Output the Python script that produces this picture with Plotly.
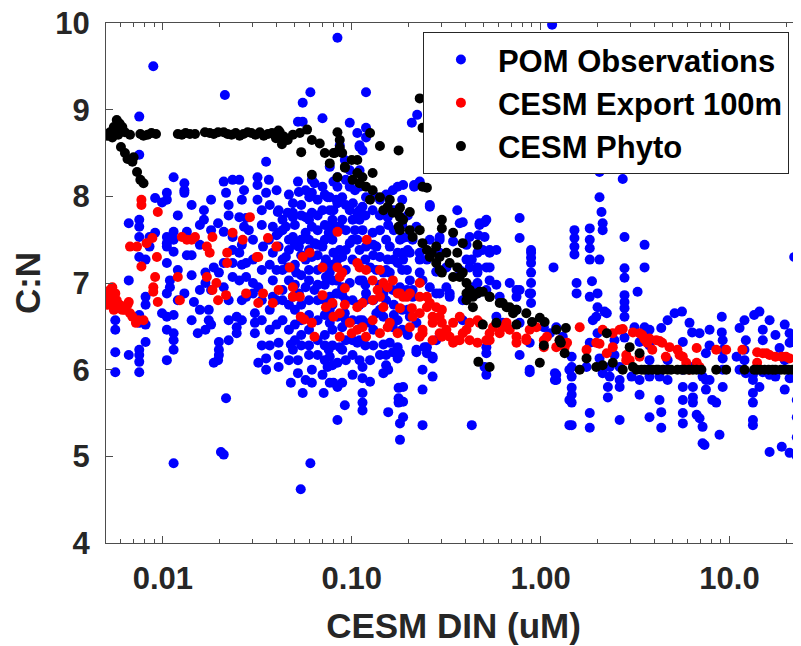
import math
import plotly.graph_objects as go

# ---------------- data ----------------
# POM observations: stations with DIN value and list of C:N values
pom_din = [0.0056, 0.0066, 0.0075, 0.0081, 0.0085, 0.0089, 0.0091, 0.0099, 0.0105, 0.0109,
           0.0114, 0.0130, 0.0134, 0.0146, 0.0153, 0.0165, 0.0168, 0.0175, 0.0186, 0.0196,
           0.0198, 0.0203, 0.0210, 0.0213, 0.0216, 0.0234, 0.0246, 0.0254, 0.0269, 0.0276,
           0.0285, 0.0300, 0.0307, 0.0317, 0.0320, 0.0339, 0.0352, 0.0364, 0.0382, 0.0406,
           0.0410, 0.0448, 0.0458, 0.0476, 0.0488, 0.0508, 0.0519, 0.0525, 0.0537, 0.0550,
           0.0570, 0.0596, 0.0604, 0.0615, 0.0635, 0.0660, 0.0700, 0.0710, 0.0730, 0.0745,
           0.0755, 0.0765, 0.0800, 0.0830, 0.0840, 0.0864, 0.0890, 0.0919, 0.0976, 0.1014,
           0.104, 0.107, 0.110, 0.114, 0.119, 0.125, 0.129, 0.135, 0.141, 0.147,
           0.155, 0.156, 0.159, 0.165, 0.175, 0.177, 0.180, 0.187, 0.196, 0.203,
           0.208, 0.210, 0.214, 0.220, 0.222, 0.229, 0.237, 0.243, 0.250, 0.259,
           0.268, 0.280, 0.292, 0.317, 0.330, 0.344, 0.362, 0.373, 0.387, 0.405,
           0.421, 0.432, 0.438, 0.463, 0.468, 0.475, 0.494, 0.505, 0.516, 0.537,
           0.583, 0.607, 0.630, 0.686, 0.745, 0.774, 0.875, 0.890, 1.04, 1.12,
           1.15, 1.17, 1.19, 1.21, 1.31, 1.42, 1.46, 1.51, 1.55, 1.75,
           1.82, 1.87, 1.89, 1.97, 2.00, 2.05, 2.10, 2.13, 2.18, 2.24,
           2.27, 2.32, 2.62, 2.72, 2.78, 3.03, 3.14, 3.26, 3.34, 3.55,
           3.77, 4.26, 4.35, 5.12, 5.60, 5.66, 6.14, 6.34, 6.40, 6.70,
           6.94, 7.20, 7.37, 7.50, 7.84, 8.10, 8.50, 8.85, 9.10, 9.20,
           10.9, 11.3, 12.2, 13.3, 13.5, 14.4, 15.0, 16.3, 17.5, 18.4,
           18.9, 20.8, 21.5, 22.0, 22.7,
           # denser part of the cloud
           0.0430, 0.0465, 0.0500, 0.0540, 0.0594, 0.0660, 0.0720, 0.0790, 0.0930, 0.101,
           0.110, 0.118, 0.130, 0.141, 0.152, 0.167, 0.185, 0.198,
           0.0120, 0.0142, 0.0157, 0.0180, 0.0223, 0.0262, 0.0334, 0.0368, 0.0400,
           2.46, 3.77, 4.70, 7.84, 12.0, 16.3, 19.6]
pom_cn = [
    [6.57, 6.46, 6.20, 5.97], [7.69, 7.03, 6.17],
    [8.92, 8.48, 7.73, 7.65, 7.53, 7.30, 6.63, 6.54, 6.23, 6.17, 6.09, 5.97],
    [7.27, 6.84, 6.75, 6.52, 6.32], [7.53, 7.42], [9.50], [7.98, 7.58], [7.93, 6.65],
    [8.04, 7.96, 7.53, 7.46, 7.42, 7.23, 6.88, 6.61, 6.46, 6.11], [7.03, 6.95],
    [8.22, 7.59, 7.50, 7.36, 6.63, 6.42, 6.34, 6.23, 4.92], [8.15, 8.07, 8.04, 6.88],
    [7.59, 7.53, 7.32], [6.78], [6.42], [7.84, 7.73], [7.12, 7.00, 6.46], [6.69, 6.57],
    [7.18, 6.08], [7.69, 6.11],
    [7.12, 6.32, 6.23, 6.17], [5.05], [8.17, 7.59, 7.23, 6.95, 5.02], [9.17], [8.04, 5.67],
    [8.19, 7.53, 7.38, 7.23, 7.07], [6.61, 6.49, 6.42], [8.19, 7.76, 7.35, 7.03],
    [7.65, 8.07], [7.75, 7.23, 7.07, 6.84],
    [7.61], [7.50, 7.27, 7.00, 6.88], [6.65, 6.54, 6.42], [8.22, 8.13, 7.96], [6.95, 6.08],
    [7.42], [8.40, 8.04, 6.13, 6.00], [8.19, 7.50], [7.65, 7.35, 7.03, 6.84], [7.82],
    [7.84, 7.58, 7.42, 6.31, 6.17, 6.03], [7.65, 7.30], [7.81, 7.18], [6.29, 5.85],
    [7.92, 7.81, 7.76, 7.53, 6.84, 6.23], [7.12], [8.86, 8.17, 6.11, 5.96], [8.05, 7.42, 6.88],
    [4.62], [9.08, 8.86, 5.73],
    [8.07, 7.76, 7.58, 7.27, 6.95, 5.88], [7.99], [9.20, 4.92],
    [8.19, 8.04, 7.81, 7.65, 7.30, 6.00, 5.85], [8.15, 7.46, 6.92], [7.61, 7.15],
    [8.90, 8.11, 7.84, 7.42, 5.94], [5.73], [7.27, 7.07], [7.99, 6.03],
    [7.58, 6.23], [8.34, 7.99, 7.84, 7.65, 7.53, 7.12, 6.84, 6.69, 6.54, 6.15, 5.85],
    [8.17, 7.84, 7.35, 5.85], [7.96, 7.65, 7.03, 6.88],
    [9.83, 8.22, 8.11, 7.92, 7.27, 6.88, 6.61, 6.08, 5.80, 5.42], [8.59, 7.65, 7.38, 6.26],
    [7.99, 7.73, 7.30, 6.95, 6.86, 6.49, 6.23, 5.85], [8.42, 6.65, 5.59],
    [8.85, 8.30, 8.11, 7.84, 7.46, 7.00], [7.92],
    [8.07, 7.61], [8.73, 7.81, 7.50, 6.31], [8.59, 8.57, 8.11, 7.38],
    [8.53, 7.88, 7.61, 7.03, 6.57, 6.03, 5.90, 5.73, 5.62, 5.53],
    [9.20, 8.79, 8.68, 7.99, 7.42, 6.88], [7.18, 6.54, 6.11, 5.86], [7.84, 7.58],
    [7.42, 7.15, 6.65], [7.96, 7.30], [7.12, 6.88, 6.61, 6.29, 5.96],
    [7.76, 7.27], [7.67, 6.00, 5.51], [7.42, 7.12, 6.31], [8.07, 6.92, 6.49, 6.20],
    [8.11, 7.35, 7.23, 6.57, 6.26, 6.13], [5.79, 5.67, 5.62], [7.50, 6.95, 6.19, 5.38, 5.19],
    [8.13, 7.52, 7.35, 7.27, 5.80, 5.63, 5.45], [7.53, 7.15, 6.92], [7.35, 7.03, 6.61],
    [8.85], [7.50, 6.92, 6.84], [8.13, 8.11], [7.65, 6.54, 6.23, 6.20], [8.94],
    [8.17, 7.35, 7.27, 7.12], [7.03, 6.00, 5.77, 5.36], [6.26], [7.27, 6.26, 6.19],
    [7.90, 7.88, 7.50, 6.95],
    [6.15, 6.13, 5.92], [7.13, 6.88, 6.34], [7.53, 7.50, 7.35, 6.88], [7.18, 6.95],
    [6.88, 6.84], [7.48], [7.84], [7.69, 7.15], [7.70, 6.80, 6.57], [7.44, 7.27],
    [7.53, 7.18], [7.27, 5.36], [6.95], [7.35, 7.18, 7.12, 7.00, 6.88], [7.55],
    [7.69, 7.67], [7.38], [7.70, 7.53, 6.03], [7.73, 7.18, 6.92, 6.26, 6.19, 6.02, 5.94],
    [7.38, 7.35, 7.18, 7.03],
    [7.38, 6.98, 6.61], [6.84], [6.54], [7.00], [6.92, 6.84, 6.69],
    [7.75, 7.52, 6.92, 6.54, 6.17], [6.88, 6.31, 6.00, 5.97],
    [7.38, 7.35, 7.29, 7.23, 7.12, 7.00, 6.88, 6.77], [6.49], [6.42],
    [9.98], [7.18], [5.96, 5.88], [6.49, 5.94, 5.88], [6.38], [6.00, 5.65, 5.36],
    [6.15, 6.03, 5.92, 5.79, 5.71, 5.62, 5.36], [7.61, 7.52, 7.42, 7.33], [7.00, 6.88], [6.03],
    [7.63, 7.50, 7.40, 7.27, 6.84, 6.31, 5.50, 5.33], [7.02], [6.57], [6.61],
    [6.88, 6.72, 6.42], [8.28, 7.99, 7.27, 6.13], [7.82], [7.69, 7.61, 5.96], [6.67], [6.65],
    [5.80, 5.68], [6.03, 5.92], [6.03, 5.88, 5.80, 5.42], [8.20],
    [7.53, 7.17, 7.06, 6.86, 6.78, 6.71, 6.61, 6.37], [5.92], [6.49], [6.90],
    [6.32, 5.88, 5.71], [7.44, 7.18, 6.49],
    [5.92, 5.45], [5.92, 5.65], [6.48, 5.51, 5.33], [6.65], [6.67],
    [6.32, 6.00, 5.80, 5.65, 5.50, 5.38], [6.54], [6.43], [6.03, 5.80, 5.68, 5.62], [5.48],
    [6.42, 5.44], [5.92, 5.34, 5.15], [5.13], [6.19, 5.88, 5.77], [5.88], [5.65], [5.62],
    [5.25], [6.61, 6.43], [6.34, 6.23, 6.13, 6.00, 5.80],
    [6.15], [6.48, 6.00], [6.34, 5.96], [5.94, 5.88, 5.73, 5.62, 5.42, 5.36], [6.63],
    [6.67, 5.80], [6.46, 6.34, 5.97], [5.05], [6.40, 5.92], [6.25],
    [5.11], [6.42, 6.31, 5.90, 5.04], [6.32], [7.30], [5.88, 5.65, 5.45, 5.22, 5.00],
    # denser part of the cloud
    [7.73, 7.61, 7.27, 7.15, 6.92, 6.80, 6.57],
    [8.02, 7.50, 7.38, 7.03, 6.75, 6.46, 6.11],
    [7.67, 7.44, 7.21, 6.98, 6.69, 6.52, 6.34],
    [7.90, 7.78, 7.50, 7.32, 7.09, 6.75, 6.57, 6.40, 6.28],
    [7.73, 7.50, 7.38, 7.15, 7.03, 6.80, 6.63, 6.46, 6.28, 6.17],
    [7.96, 7.78, 7.44, 7.32, 6.98, 6.80, 6.57, 6.34, 6.17],
    [8.02, 7.67, 7.50, 7.21, 6.98, 6.80, 6.63, 6.40, 6.28, 6.11],
    [7.73, 7.50, 7.21, 7.03, 6.75, 6.46, 6.28, 6.05],
    [8.19, 7.90, 7.61, 7.38, 7.15, 6.80, 6.57, 6.34, 6.11],
    [7.73, 7.50, 7.27, 6.80, 6.57, 6.34, 6.17, 5.94],
    [8.30, 7.84, 7.73, 7.03, 6.75, 6.57, 6.34, 6.11],
    [7.78, 7.27, 6.98, 6.80, 6.28],
    [8.02, 7.44, 7.32, 6.80, 6.46, 6.28],
    [7.78, 7.61, 6.98, 6.69, 6.17],
    [8.02, 7.50, 7.15, 6.80, 6.17, 6.05],
    [7.84, 7.61, 7.27, 6.75, 6.63],
    [7.96, 7.67, 7.15, 6.69, 6.46],
    [7.78, 7.38, 6.69, 6.40],
    [7.78, 7.15, 6.80], [7.90, 7.32, 7.09, 6.57], [7.67, 7.44, 6.92, 6.69],
    [7.96, 7.61, 6.92, 6.52], [7.90, 7.78, 6.80, 6.57, 6.34], [7.96, 7.44, 7.21, 6.80, 6.57],
    [7.84, 7.67, 7.15, 6.80, 6.57, 6.28], [7.90, 7.21, 6.69, 6.46, 6.28],
    [8.07, 7.55, 7.15, 6.80, 6.52],
    [6.34, 6.17], [6.46, 6.28, 6.11], [6.57, 6.11, 5.88], [6.46, 6.28],
    [6.57, 6.23, 6.11], [6.57, 5.94], [6.52, 6.11, 5.77],
]

# CESM export at 100 m
export_din = [
    0.0050, 0.0051, 0.0051, 0.00525, 0.00525, 0.0054, 0.0054, 0.0055, 0.0056, 0.0056,
    0.0057, 0.0058, 0.0059, 0.0061, 0.0063, 0.0065, 0.0066, 0.0067, 0.0069, 0.0072,
    0.0074, 0.0079, 0.0077, 0.0077, 0.0094, 0.0067, 0.0073, 0.0082, 0.0088, 0.0093,
    0.0077, 0.0091, 0.0089, 0.0089, 0.0094, 0.0120, 0.0123, 0.0126, 0.0134, 0.0142,
    0.0148, 0.0171, 0.0177, 0.0183, 0.0171, 0.0183, 0.0192, 0.0196, 0.0216, 0.0219,
    0.0219, 0.0234, 0.0265, 0.0276, 0.0289, 0.0314, 0.0320, 0.0339, 0.0360, 0.0382,
    0.0399, 0.0410, 0.0470, 0.0488, 0.0488, 0.0531, 0.0537, 0.0550, 0.0599, 0.0615,
    0.0635, 0.0700, 0.0700, 0.0730, 0.0800, 0.0840, 0.0840, 0.0864, 0.0890, 0.0919,
    0.107, 0.110, 0.119, 0.120, 0.129, 0.141, 0.147, 0.155, 0.165, 0.180,
    0.196, 0.229, 0.229, 0.250, 0.137, 0.0790, 0.0919, 0.107, 0.114, 0.129,
    0.141, 0.147, 0.175, 0.187, 0.203, 0.180, 0.208, 0.0864, 0.0976, 0.107,
    0.114, 0.119, 0.141, 0.159, 0.175, 0.203, 0.229, 0.237, 0.250, 0.259,
    0.280, 0.292, 0.300, 0.317, 0.330, 0.362, 0.387, 0.421, 0.463, 0.268,
    0.292, 0.344, 0.373, 0.421, 0.463, 0.475, 0.537, 0.537, 0.630, 0.686,
    0.745, 0.745, 0.840, 0.875, 0.950, 1.04, 1.04, 1.08, 1.26, 1.38,
    0.0864, 0.300, 0.268, 0.210, 0.229, 0.155, 0.129, 0.100, 0.237, 0.268,
    0.300, 0.344, 0.373, 0.405, 0.516, 0.560, 0.607, 0.660, 0.840, 1.21,
    1.34, 1.61, 1.75, 1.97, 2.13, 2.24, 2.41, 2.41, 2.62, 2.84,
    2.84, 2.96, 3.08, 3.34, 3.34, 3.45, 3.66, 3.77, 3.90, 4.10,
    4.40, 4.60, 4.81, 5.30, 5.44, 5.66, 5.90, 6.14, 6.70, 6.70,
    6.94, 8.50, 9.60, 11.7, 14.0, 15.0, 15.7, 16.3, 17.5, 18.9,
    19.9, 20.8, 22.7, 14.0, 3.55, 2.05, 2.72, 4.26, 0.0560, 0.0320,
]
export_cn = [
    6.80, 6.88, 6.75, 6.92, 6.77, 6.95, 6.83, 6.69, 6.88, 6.77,
    6.80, 6.71, 6.75, 6.69, 6.69, 6.75, 6.78, 6.65, 6.61, 6.54,
    6.57, 6.57, 7.96, 7.90, 7.82, 7.42, 7.42, 7.46, 7.52, 7.30,
    7.19, 7.07, 6.95, 6.90, 6.78, 7.07, 6.80, 7.53, 7.50, 7.50,
    7.53, 7.42, 7.35, 7.53, 7.07, 6.92, 7.00, 6.80, 6.86, 7.35,
    7.23, 7.58, 7.50, 6.88, 7.76, 7.30, 6.77, 6.88, 7.52, 6.77,
    7.42, 6.92, 7.18, 6.95, 6.84, 6.84, 6.61, 7.30, 7.35, 6.54,
    6.38, 7.18, 6.86, 6.72, 6.61, 7.18, 7.59, 7.07, 7.12, 6.94,
    7.23, 7.18, 7.15, 7.50, 7.03, 7.15, 7.00, 6.95, 7.03, 6.88,
    6.84, 7.00, 6.84, 6.84, 6.92, 6.77, 6.75, 6.72, 6.77, 6.80,
    6.84, 6.72, 6.88, 6.84, 6.88, 6.71, 6.71, 6.65, 6.54, 6.46,
    6.49, 6.38, 6.42, 6.54, 6.42, 6.49, 6.38, 6.46, 6.72, 6.77,
    6.72, 6.61, 6.54, 6.46, 6.38, 6.34, 6.42, 6.34, 6.31, 6.54,
    6.42, 6.54, 6.61, 6.54, 6.57, 6.54, 6.42, 6.34, 6.49, 6.46,
    6.38, 6.31, 6.34, 6.46, 6.49, 6.34, 6.26, 6.38, 6.34, 6.31,
    6.38, 6.69, 6.61, 6.61, 6.65, 6.49, 6.57, 6.42, 6.42, 6.34,
    6.38, 6.31, 6.34, 6.46, 6.34, 6.49, 6.42, 6.54, 6.36, 6.26,
    6.26, 6.49, 6.23, 6.31, 6.46, 6.19, 6.42, 6.26, 6.46, 6.17,
    6.11, 6.11, 6.43, 6.42, 6.15, 6.40, 6.31, 6.36, 6.23, 6.34,
    6.31, 6.15, 6.26, 6.23, 6.17, 6.15, 6.08, 6.00, 6.25, 6.08,
    6.03, 6.23, 6.23, 6.23, 6.20, 6.19, 6.19, 6.17, 6.15, 6.15,
    6.15, 6.13, 6.13, 6.08, 6.35, 6.30, 6.47, 6.33, 6.58, 7.30,
]

# CESM phytoplankton
phyto_din = [
    0.0051, 0.00525, 0.0055, 0.0057, 0.0056, 0.0058, 0.0061, 0.0063, 0.0067, 0.0054,
    0.0060, 0.0063, 0.0065, 0.0069, 0.0070, 0.0073, 0.0076, 0.0079, 0.0050, 0.0059,
    0.0076, 0.0079, 0.0083, 0.0087, 0.0092, 0.0120, 0.0126, 0.0132, 0.0139, 0.0148,
    0.0167, 0.0177, 0.0186, 0.0196, 0.0210, 0.0220, 0.0231, 0.0243, 0.0255, 0.0267,
    0.0281, 0.0294, 0.0309, 0.0326, 0.0342, 0.0360, 0.0378, 0.0397, 0.0416, 0.0437,
    0.0410, 0.0458, 0.0427, 0.0488, 0.0531, 0.0580, 0.0615, 0.0677, 0.0720, 0.0765,
    0.0813, 0.0864, 0.0540, 0.0615, 0.0920, 0.1000, 0.107, 0.110, 0.119, 0.125,
    0.129, 0.141, 0.155, 0.165, 0.177, 0.141, 0.177, 0.0840, 0.0864, 0.0890,
    0.0800, 0.0840, 0.0920, 0.107, 0.101, 0.114, 0.129, 0.125, 0.147, 0.159,
    0.175, 0.180, 0.187, 0.203, 0.210, 0.237, 0.250, 0.237, 0.250, 0.259,
    0.280, 0.292, 0.300, 0.300, 0.344, 0.317, 0.280, 0.292, 0.300, 0.330,
    0.362, 0.387, 0.463, 0.362, 0.373, 0.387, 0.405, 0.421, 0.438, 0.494,
    0.537, 0.229, 0.237, 0.180, 0.203, 0.229, 0.180, 0.265, 0.344, 0.405,
    0.438, 0.463, 0.607, 0.660, 0.745, 0.840, 0.990, 0.494, 0.583, 0.745,
    0.900, 1.05, 1.21, 1.36, 1.28, 1.34, 1.04, 0.990, 0.468, 0.537,
    2.24, 1.61, 1.75, 1.97, 2.13, 2.41, 2.72, 2.96, 3.34, 3.08,
    3.22, 3.42, 3.55, 3.72, 3.90, 4.10, 4.20, 4.45, 4.70, 4.90,
    5.30, 5.60, 5.78, 6.10, 6.40, 6.70, 7.10, 8.50, 9.60, 12.0,
    13.5, 14.0, 14.6, 15.3, 16.1, 16.9, 17.5, 18.7, 19.6, 20.5,
    21.5, 22.7, 0.405, 0.421, 0.475, 0.537, 0.630, 0.686, 0.715, 1.26,
]
phyto_cn = [
    8.70, 8.74, 8.80, 8.88, 8.77, 8.71, 8.80, 8.74, 8.71, 8.68,
    8.57, 8.50, 8.43, 8.40, 8.45, 8.28, 8.19, 8.15, 8.72, 8.84,
    8.72, 8.70, 8.71, 8.73, 8.72, 8.72, 8.71, 8.73, 8.72, 8.72,
    8.74, 8.73, 8.72, 8.74, 8.74, 8.72, 8.71, 8.73, 8.70, 8.72,
    8.74, 8.73, 8.71, 8.74, 8.70, 8.72, 8.73, 8.67, 8.74, 8.69,
    8.76, 8.65, 8.60, 8.71, 8.73, 8.77, 8.65, 8.61, 8.50, 8.38,
    8.50, 8.56, 8.51, 8.25, 8.34, 8.42, 8.27, 8.15, 8.11, 8.73,
    8.27, 7.99, 7.88, 7.81, 7.65, 8.58, 8.53, 8.74, 8.65, 8.50,
    8.50, 8.22, 8.33, 8.42, 8.19, 8.22, 8.07, 7.96, 7.84, 7.96,
    7.81, 7.76, 7.73, 7.61, 7.53, 8.11, 8.10, 7.46, 7.38, 7.30,
    7.42, 7.30, 7.73, 7.63, 7.58, 7.35, 7.23, 7.15, 7.12, 7.23,
    7.35, 7.46, 7.44, 7.18, 7.07, 7.12, 7.00, 6.92, 6.84, 6.90,
    6.84, 9.13, 8.79, 7.87, 7.82, 7.61, 7.61, 7.35, 7.07, 6.80,
    6.72, 6.88, 6.77, 6.72, 6.69, 6.65, 6.60, 6.52, 6.54, 6.52,
    6.55, 6.55, 6.46, 6.48, 6.31, 6.19, 6.28, 6.08, 6.09, 6.03,
    6.42, 6.00, 6.13, 6.03, 6.05, 6.08, 6.00, 6.26, 6.19, 6.03,
    6.00, 6.00, 6.00, 6.00, 6.00, 6.00, 6.00, 6.00, 6.00, 6.00,
    6.00, 6.00, 6.00, 6.00, 6.00, 6.00, 6.00, 6.00, 6.00, 6.00,
    6.00, 6.00, 6.00, 6.00, 6.00, 6.00, 6.00, 6.00, 6.00, 6.00,
    6.00, 6.00, 6.88, 6.92, 6.90, 6.84, 6.77, 6.72, 6.65, 6.34,
]

x_tick_vals = [0.01, 0.1, 1, 10]
x_tick_text = ["0.01", "0.10", "1.00", "10.0"]
x_minor_vals = [0.006, 0.007, 0.008, 0.009,
                0.02, 0.03, 0.04, 0.05, 0.06, 0.07, 0.08, 0.09,
                0.2, 0.3, 0.4, 0.5, 0.6, 0.7, 0.8, 0.9,
                2, 3, 4, 5, 6, 7, 8, 9, 20]
y_tick_vals = [4, 5, 6, 7, 8, 9, 10]
x_limits = [0.005, 23.9]
y_limits = [4, 10]

# ---------------- figure ----------------
pom_x, pom_y = [], []
for d, vals in zip(pom_din, pom_cn):
    for v in vals:
        pom_x.append(d)
        pom_y.append(v)

axis_col = "#4d4d4d"
txt_col = "#262626"
font_fam = "Liberation Sans, Arial, Helvetica, sans-serif"

fig = go.Figure()
fig.add_trace(go.Scatter(x=pom_x, y=pom_y, mode="markers", name="POM Observations",
                         marker=dict(color="#0000FF", size=10, line=dict(width=0))))
fig.add_trace(go.Scatter(x=export_din, y=export_cn, mode="markers", name="CESM Export 100m",
                         marker=dict(color="#FF0000", size=10, line=dict(width=0))))
fig.add_trace(go.Scatter(x=phyto_din, y=phyto_cn, mode="markers", name="CESM Phyto",
                         marker=dict(color="#000000", size=10, line=dict(width=0))))

# the page body adds an 8 px offset, so the figure is 8 px smaller on each side
fig.update_layout(
    width=793, height=638,
    margin=dict(l=98, r=0, t=15, b=103, autoexpand=False),
    paper_bgcolor="white", plot_bgcolor="white",
    font=dict(family=font_fam, size=30, color=txt_col, weight="bold"),
    showlegend=True,
    legend=dict(x=0.456, y=0.983, xanchor="left", yanchor="top",
                bordercolor="#262626", borderwidth=1, bgcolor="white",
                font=dict(family=font_fam, size=31, color="black", weight="bold"),
                itemwidth=64, tracegroupgap=0),
)
fig.update_xaxes(
    type="log", range=[math.log10(x_limits[0]), math.log10(x_limits[1])],
    automargin=False, ticklabeloverflow="allow",
    tickmode="array", tickvals=x_tick_vals, ticktext=x_tick_text,
    ticks="inside", ticklen=7, tickwidth=1, tickcolor=axis_col,
    showline=True, linecolor=axis_col, linewidth=1, mirror="ticks",
    showgrid=False, zeroline=False,
    minor=dict(tickmode="array", tickvals=x_minor_vals, ticks="inside", ticklen=4,
               tickwidth=1, tickcolor=axis_col, showgrid=False),
    tickfont=dict(size=31, color=txt_col),
    ticklabelstandoff=8,
    title=dict(text="CESM DIN (uM)", font=dict(size=35, color=txt_col), standoff=18),
)
fig.update_yaxes(
    range=y_limits, automargin=False, ticklabeloverflow="allow",
    tickmode="array", tickvals=y_tick_vals,
    ticks="inside", ticklen=7, tickwidth=1, tickcolor=axis_col,
    showline=True, linecolor=axis_col, linewidth=1, mirror="ticks",
    showgrid=False, zeroline=False,
    tickfont=dict(size=31, color=txt_col),
    ticklabelstandoff=9,
    title=dict(text="C:N", font=dict(size=35, color=txt_col), standoff=4),
)

fig.write_html("out.html")
